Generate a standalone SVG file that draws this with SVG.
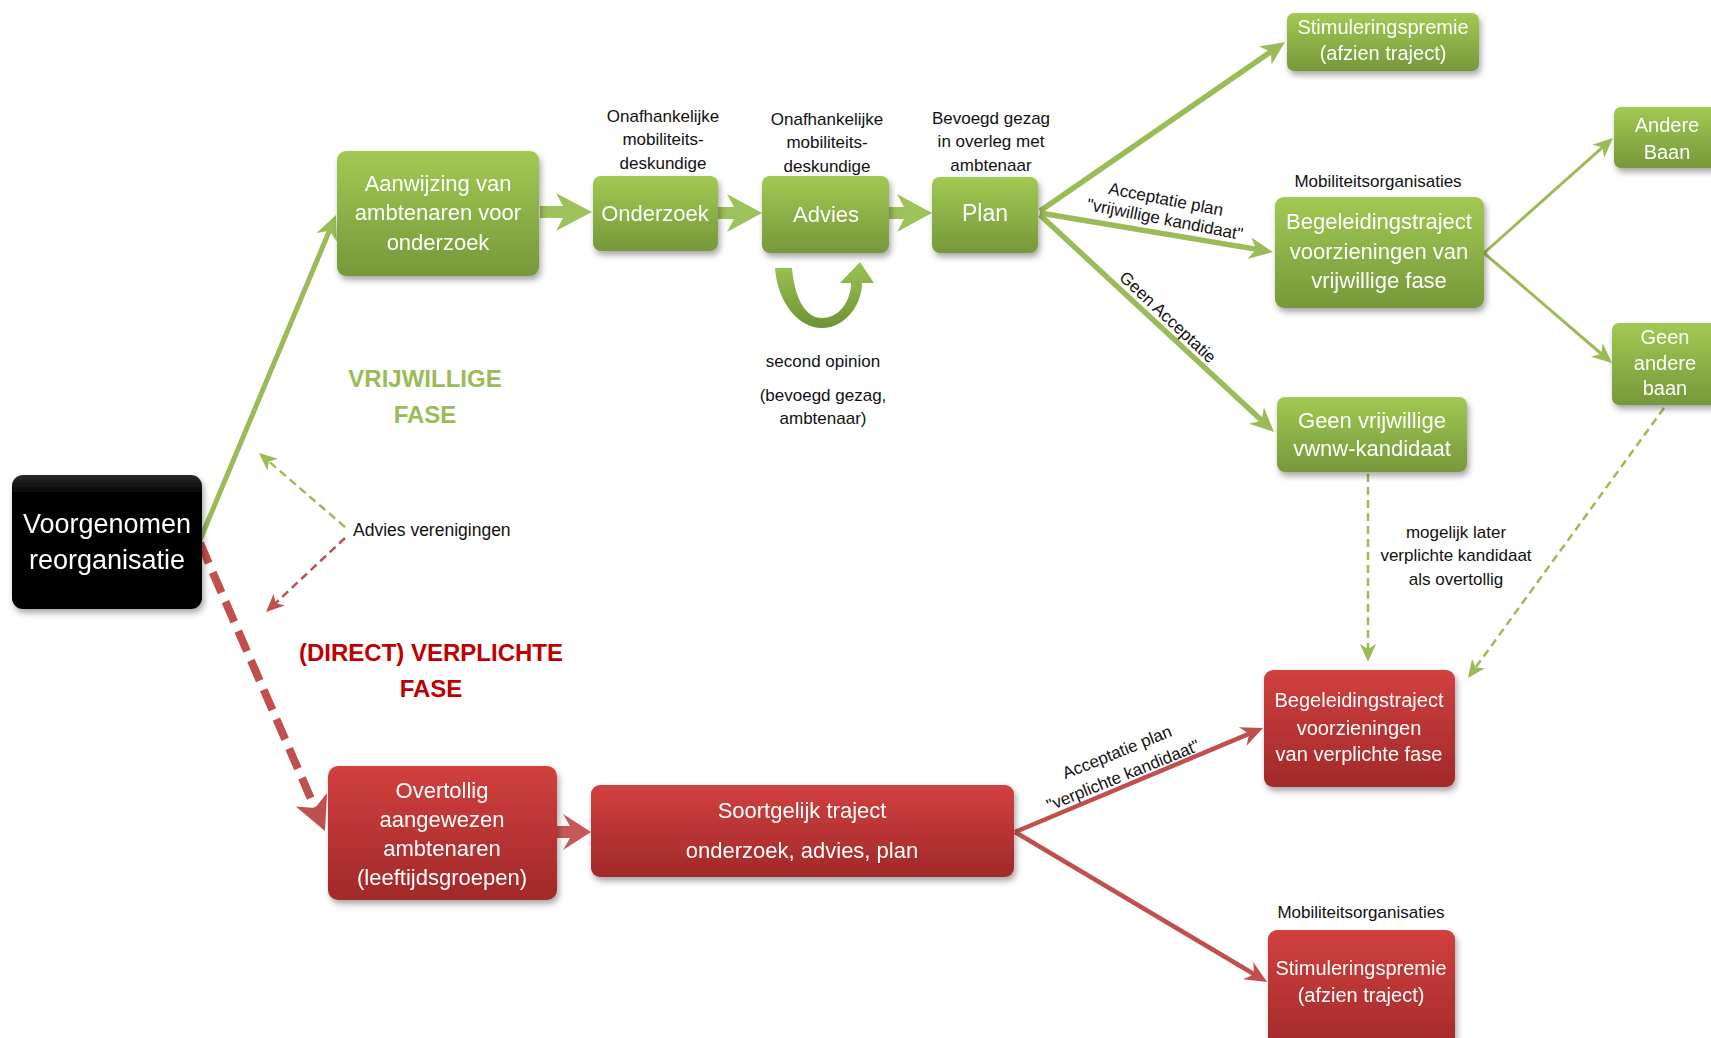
<svg xmlns="http://www.w3.org/2000/svg" width="1711" height="1038" viewBox="0 0 1711 1038">
<style>
.bt{fill:#fff;font-family:"Liberation Sans",Arial,sans-serif;text-anchor:middle}
.lb{fill:#111;font-family:"Liberation Sans",Arial,sans-serif;font-size:17px;text-anchor:middle}
.ls{fill:#111;font-family:"Liberation Sans",Arial,sans-serif;font-size:17.5px;text-anchor:start}
.gl{stroke:#9bbb59;fill:none}
.rl{stroke:#c0504d;fill:none}
.ph{font-family:"Liberation Sans",Arial,sans-serif;font-weight:bold;font-size:24px;text-anchor:middle}
</style>
<defs>
<linearGradient id="gg" x1="0" y1="0" x2="0" y2="1"><stop offset="0" stop-color="#a2c953"/><stop offset="1" stop-color="#76983a"/></linearGradient>
<linearGradient id="rg" x1="0" y1="0" x2="0" y2="1"><stop offset="0" stop-color="#d1403e"/><stop offset="1" stop-color="#a1292a"/></linearGradient>
<linearGradient id="bg" x1="0" y1="0" x2="0" y2="1"><stop offset="0" stop-color="#2a2a2a"/><stop offset="0.15" stop-color="#000"/><stop offset="1" stop-color="#000"/></linearGradient>
<linearGradient id="ug" x1="0" y1="0" x2="0" y2="1"><stop offset="0" stop-color="#9cc454"/><stop offset="1" stop-color="#6f9234"/></linearGradient>
<filter id="sh" x="-10%" y="-10%" width="130%" height="140%"><feDropShadow dx="2" dy="4" stdDeviation="3" flood-color="#000" flood-opacity="0.35"/></filter>
<marker id="ag" markerUnits="userSpaceOnUse" markerWidth="30" markerHeight="30" refX="8" refY="0" orient="auto" overflow="visible"><path d="M0,-11 L24,0 L0,11 L7,0 Z" fill="#9bbb59"/></marker>
<marker id="ags" markerUnits="userSpaceOnUse" markerWidth="30" markerHeight="30" refX="7" refY="0" orient="auto" overflow="visible"><path d="M0,-9 L20,0 L0,9 L6,0 Z" fill="#9bbb59"/></marker>
<marker id="ar" markerUnits="userSpaceOnUse" markerWidth="30" markerHeight="30" refX="8" refY="0" orient="auto" overflow="visible"><path d="M0,-10 L22,0 L0,10 L7,0 Z" fill="#c0504d"/></marker>
<marker id="adg" markerUnits="userSpaceOnUse" markerWidth="30" markerHeight="30" refX="6" refY="0" orient="auto" overflow="visible"><path d="M0,-8 L18,0 L0,8 L5,0 Z" fill="#9bbb59"/></marker>
<marker id="adr" markerUnits="userSpaceOnUse" markerWidth="30" markerHeight="30" refX="6" refY="0" orient="auto" overflow="visible"><path d="M0,-8 L18,0 L0,8 L5,0 Z" fill="#c0504d"/></marker>
<marker id="arb" markerUnits="userSpaceOnUse" markerWidth="40" markerHeight="40" refX="10" refY="0" orient="auto" overflow="visible"><path d="M0,-17 L34,0 L0,17 L9,0 Z" fill="#c0504d"/></marker>
</defs>
<rect width="1711" height="1038" fill="#fff"/>

<g id="connectors">
<line class="gl" x1="200" y1="540" x2="329.8" y2="229.8" stroke-width="5" marker-end="url(#ag)"/>
<line class="gl" x1="1040" y1="211" x2="1271.8" y2="51.1" stroke-width="5.5" marker-end="url(#ag)"/>
<line class="gl" x1="1040" y1="213" x2="1257.2" y2="249.4" stroke-width="5.5" marker-end="url(#ag)"/>
<line class="gl" x1="1040" y1="215" x2="1262.3" y2="421.1" stroke-width="5.5" marker-end="url(#ag)"/>
<line class="gl" x1="1484" y1="253" x2="1603.3" y2="146.7" stroke-width="3" marker-end="url(#ags)"/>
<line class="gl" x1="1484" y1="253" x2="1602.1" y2="354.5" stroke-width="3" marker-end="url(#ags)"/>
<line class="gl" x1="345" y1="527" x2="268.1" y2="460.8" stroke-width="2.5" stroke-dasharray="8 5" marker-end="url(#adg)"/>
<line class="rl" x1="345" y1="538" x2="274.8" y2="603.8" stroke-width="2.5" stroke-dasharray="8 5" marker-end="url(#adr)"/>
<line class="gl" x1="1368" y1="474" x2="1368" y2="650" stroke-width="2.5" stroke-dasharray="8 5" marker-end="url(#adg)"/>
<line class="gl" x1="1664" y1="408" x2="1475" y2="668.3" stroke-width="2.5" stroke-dasharray="8 5" marker-end="url(#adg)"/>
<line class="rl" x1="200" y1="543" x2="315.4" y2="809" stroke-width="8" stroke-dasharray="22 10" marker-end="url(#arb)"/>
<line class="rl" x1="1015" y1="832" x2="1250.1" y2="733.4" stroke-width="4.5" marker-end="url(#ar)"/>
<line class="rl" x1="1015" y1="832" x2="1255" y2="974.8" stroke-width="4.5" marker-end="url(#ar)"/>
<polygon points="540,206 563,206 556,193 592,212 556,231 563,218 540,218" fill="#9dc15b"/>
<polygon points="718,207 734,207 727,194 762,213 727,232 734,219 718,219" fill="#9dc15b"/>
<polygon points="889,207 904,207 897,194 932,213 897,232 904,219 889,219" fill="#9dc15b"/>
<polygon points="557,826 570,826 563,814 591,832 563,850 570,838 557,838" fill="#c9575a"/>
<path d="M775,268 C778,305 800,328 822,328 C845,328 862,305 862,283 L874,283 L860,262 L840,283 L851,283 C851,300 840,318 822,318 C806,318 795,300 792,268 Z" fill="url(#ug)"/>
<text class="lb" font-size="18" transform="translate(1166,199) rotate(11)" y="6">Acceptatie plan</text>
<text class="lb" font-size="18" transform="translate(1165,219) rotate(11)" y="6">"vrijwillige kandidaat"</text>
<text class="lb" font-size="18" transform="translate(1168,317) rotate(43)" y="6">Geen Acceptatie</text>
<text class="lb" font-size="18" transform="translate(1117,752) rotate(-22)" y="6">Acceptatie plan</text>
<text class="lb" font-size="18" transform="translate(1123,775) rotate(-22)" y="6">"verplichte kandidaat"</text>
</g>

<g id="n-voorgenomen" filter="url(#sh)">
<rect x="12" y="475" width="190" height="134" rx="11" fill="url(#bg)"/>
<text class="bt" font-size="27" x="107" y="533">Voorgenomen</text>
<text class="bt" font-size="27" x="107" y="569">reorganisatie</text>
</g>
<g id="n-aanwijzing" filter="url(#sh)">
<rect x="337" y="151" width="202" height="125" rx="9" fill="url(#gg)"/>
<text class="bt" font-size="22" x="438" y="191">Aanwijzing van</text>
<text class="bt" font-size="22" x="438" y="220">ambtenaren voor</text>
<text class="bt" font-size="22" x="438" y="250">onderzoek</text>
</g>
<g id="n-onderzoek" filter="url(#sh)">
<rect x="593" y="176" width="125" height="75" rx="8" fill="url(#gg)"/>
<text class="bt" font-size="22" x="655" y="221">Onderzoek</text>
</g>
<g id="n-advies" filter="url(#sh)">
<rect x="762" y="176" width="127" height="77" rx="8" fill="url(#gg)"/>
<text class="bt" font-size="22" x="826" y="222">Advies</text>
</g>
<g id="n-plan" filter="url(#sh)">
<rect x="932" y="177" width="106" height="76" rx="8" fill="url(#gg)"/>
<text class="bt" font-size="23" x="985" y="221">Plan</text>
</g>
<g id="n-stim-groen" filter="url(#sh)">
<rect x="1287" y="13" width="192" height="58" rx="7" fill="url(#gg)"/>
<text class="bt" font-size="20" x="1383" y="34">Stimuleringspremie</text>
<text class="bt" font-size="20" x="1383" y="60">(afzien traject)</text>
</g>
<g id="n-begel-groen" filter="url(#sh)">
<rect x="1275" y="197" width="209" height="111" rx="9" fill="url(#gg)"/>
<text class="bt" font-size="22" x="1379" y="229">Begeleidingstraject</text>
<text class="bt" font-size="22" x="1379" y="259">voorzieningen van</text>
<text class="bt" font-size="22" x="1379" y="288">vrijwillige fase</text>
</g>
<g id="n-andere" filter="url(#sh)">
<rect x="1614" y="107" width="120" height="61" rx="7" fill="url(#gg)"/>
<text class="bt" font-size="20" x="1667" y="132">Andere</text>
<text class="bt" font-size="20" x="1667" y="159">Baan</text>
</g>
<g id="n-geen-andere" filter="url(#sh)">
<rect x="1612" y="323" width="120" height="82" rx="7" fill="url(#gg)"/>
<text class="bt" font-size="20" x="1665" y="344">Geen</text>
<text class="bt" font-size="20" x="1665" y="370">andere</text>
<text class="bt" font-size="20" x="1665" y="395">baan</text>
</g>
<g id="n-geen-vrij" filter="url(#sh)">
<rect x="1277" y="397" width="190" height="75" rx="8" fill="url(#gg)"/>
<text class="bt" font-size="22" x="1372" y="428">Geen vrijwillige</text>
<text class="bt" font-size="22" x="1372" y="456">vwnw-kandidaat</text>
</g>
<g id="n-begel-rood" filter="url(#sh)">
<rect x="1264" y="670" width="191" height="117" rx="9" fill="url(#rg)"/>
<text class="bt" font-size="20" x="1359" y="707">Begeleidingstraject</text>
<text class="bt" font-size="20" x="1359" y="735">voorzieningen</text>
<text class="bt" font-size="20" x="1359" y="761">van verplichte fase</text>
</g>
<g id="n-stim-rood" filter="url(#sh)">
<rect x="1268" y="930" width="187" height="125" rx="9" fill="url(#rg)"/>
<text class="bt" font-size="20" x="1361" y="975">Stimuleringspremie</text>
<text class="bt" font-size="20" x="1361" y="1002">(afzien traject)</text>
</g>
<g id="n-overtollig" filter="url(#sh)">
<rect x="328" y="766" width="229" height="134" rx="10" fill="url(#rg)"/>
<text class="bt" font-size="22" x="442" y="798">Overtollig</text>
<text class="bt" font-size="22" x="442" y="827">aangewezen</text>
<text class="bt" font-size="22" x="442" y="856">ambtenaren</text>
<text class="bt" font-size="22" x="442" y="885">(leeftijdsgroepen)</text>
</g>
<g id="n-soortgelijk" filter="url(#sh)">
<rect x="591" y="785" width="423" height="92" rx="9" fill="url(#rg)"/>
<text class="bt" font-size="22" x="802" y="818">Soortgelijk traject</text>
<text class="bt" font-size="22" x="802" y="858">onderzoek, advies, plan</text>
</g>

<g id="labels">
<text class="lb" x="663" y="122">Onafhankelijke</text>
<text class="lb" x="663" y="145">mobiliteits-</text>
<text class="lb" x="663" y="169">deskundige</text>
<text class="lb" x="827" y="125">Onafhankelijke</text>
<text class="lb" x="827" y="148">mobiliteits-</text>
<text class="lb" x="827" y="172">deskundige</text>
<text class="lb" x="991" y="124">Bevoegd gezag</text>
<text class="lb" x="991" y="147">in overleg met</text>
<text class="lb" x="991" y="171">ambtenaar</text>
<text class="lb" x="823" y="367">second opinion</text>
<text class="lb" x="823" y="401">(bevoegd gezag,</text>
<text class="lb" x="823" y="424">ambtenaar)</text>
<text class="lb" font-size="18" x="1378" y="187">Mobiliteitsorganisaties</text>
<text class="lb" font-size="18" x="1361" y="918">Mobiliteitsorganisaties</text>
<text class="ls" x="353" y="536">Advies verenigingen</text>
<text class="lb" x="1456" y="538">mogelijk later</text>
<text class="lb" x="1456" y="561">verplichte kandidaat</text>
<text class="lb" x="1456" y="585">als overtollig</text>
<text class="ph" fill="#9bbb59" x="425" y="387">VRIJWILLIGE</text>
<text class="ph" fill="#9bbb59" x="425" y="423">FASE</text>
<text class="ph" fill="#c00000" x="431" y="661">(DIRECT) VERPLICHTE</text>
<text class="ph" fill="#c00000" x="431" y="697">FASE</text>
</g>
</svg>
